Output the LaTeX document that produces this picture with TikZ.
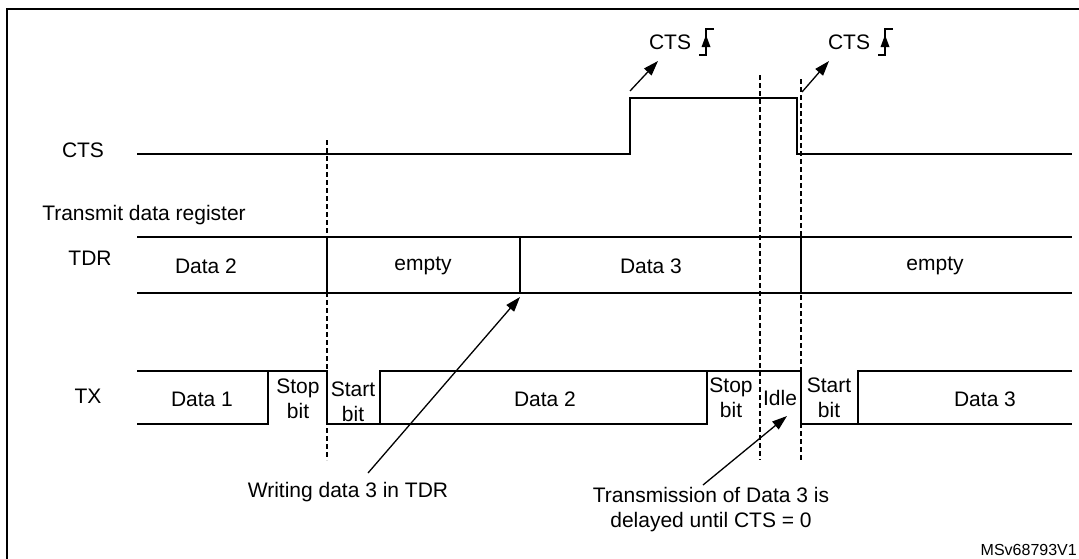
\documentclass[tikz,border=0pt]{standalone}
\usepackage{fontspec}
\setmainfont{Liberation Sans}
\usetikzlibrary{arrows.meta}
\begin{document}
\begin{tikzpicture}[x=1pt,y=-1pt,
  sig/.style={line width=1.4pt, line join=miter},
  vdash/.style={line width=1.1pt, dash pattern=on 5pt off 3pt},
  lbl/.style={font=\fontsize{21}{25}\selectfont, inner sep=0pt, align=center},
  small/.style={font=\fontsize{16}{19}\selectfont, inner sep=0pt},
  ptr/.style={line width=1.3pt, -{Triangle[length=15pt,width=10pt]}},
  redge/.pic={
    \draw[line width=1.2pt] (-7,13)--(0,13)--(0,-13)--(8,-13);
    \fill (-4.5,5) -- (4.5,5) -- (0,-7) -- cycle;
  },
]
\useasboundingbox (0,0) rectangle (1079,558);
\fill[white] (0,0) rectangle (1079,558);
\draw[line width=2.5pt] (7,600) -- (7,9) -- (1100,9);

% row labels
\node[lbl] (ctsl) at (83,150) {CTS};
\node[lbl] (tdrreg) at (144,215) {Transmit data register};
\node[lbl] (tdrl) at (90,258) {TDR};
\node[lbl] (txl) at (88,396) {TX};

% CTS waveform
\draw[sig] (137,154) -- (630,154) -- (630,98) -- (797,98) -- (797,154) -- (1072,154);

% CTS edge annotations
\node[lbl] (cts1) at (670,42) {CTS};
\node[lbl] (cts2) at (849,42) {CTS};
\pic at (706,42) {redge};
\pic at (885,42) {redge};
\coordinate (a1s) at (630,91);
\coordinate (a1e) at (658,61);
\coordinate (a2s) at (802,92);
\coordinate (a2e) at (829,61);
\draw[ptr] (a1s) -- (a1e);
\draw[ptr] (a2s) -- (a2e);

% dashed markers
\draw[vdash] (327,140) -- (327,460);
\draw[vdash] (760,75) -- (760,460);
\draw[vdash] (801,79) -- (801,460);

% TDR
\draw[sig] (137,237) -- (1072,237);
\draw[sig] (137,293) -- (1072,293);
\draw[sig] (327,237) -- (327,293);
\draw[sig] (520,237) -- (520,293);
\draw[sig] (801,237) -- (801,293);
\node[lbl] (td1) at (206,266) {Data 2};
\node[lbl] (td2) at (423,266) {empty};
\node[lbl] (td3) at (651,266) {Data 3};
\node[lbl] (td4) at (935,266) {empty};

% TX
\draw[sig] (137,424) -- (268,424) -- (268,371);
\draw[sig] (137,371) -- (327,371) -- (327,424) -- (707,424) -- (707,371);
\draw[sig] (380,424) -- (380,371) -- (801,371) -- (801,424) -- (1072,424);
\draw[sig] (858,424) -- (858,371) -- (1072,371);
\node[lbl] (tx1) at (202,399) {Data 1};
\node[lbl, align=center] (tx2) at (298,399) {Stop\\bit};
\node[lbl, align=center] (tx3) at (353,402) {Start\\bit};
\node[lbl] (tx4) at (545,399) {Data 2};
\node[lbl, align=center] (tx5) at (731,398) {Stop\\bit};
\node[lbl] (tx6) at (780,398) {Idle};
\node[lbl, align=center] (tx7) at (829,398) {Start\\bit};
\node[lbl] (tx8) at (985,399) {Data 3};

% annotations
\node[lbl] (wr) at (348,492) {Writing data 3 in TDR};
\coordinate (w0) at (368,473);
\coordinate (w1) at (520,297);
\draw[ptr] (w0) -- (w1);

\node[lbl, align=center] (trn) at (711,510) {Transmission of Data 3 is\\delayed until CTS = 0};
\coordinate (t0) at (703,485);
\coordinate (t1) at (787,416);
\draw[ptr] (t0) -- (t1);

\node[small, anchor=east] (ms) at (1077,550) {MSv68793V1};
\end{tikzpicture}
\end{document}
